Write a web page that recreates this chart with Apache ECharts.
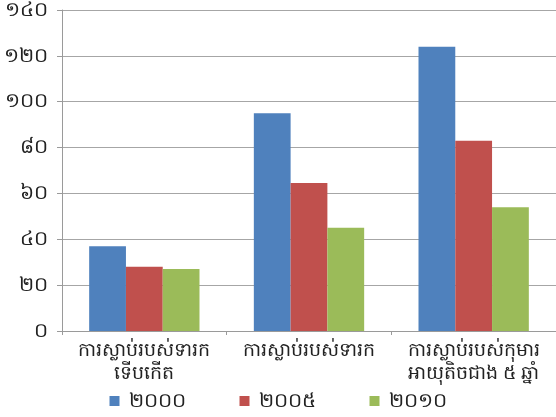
<!DOCTYPE html>
<html>
<head>
<meta charset="utf-8">
<script src="https://cdn.jsdelivr.net/npm/echarts@6/dist/echarts.min.js"></script>
<style>
  html, body { margin: 0; padding: 0; background: #fff; }
  #chart { width: 556px; height: 417px; }
</style>
</head>
<body>
<div id="chart"></div>
<script>
// Child mortality categories (Khmer)
const categories = [
  'ការស្លាប់របស់ទារក\nទើបកើត',
  'ការស្លាប់របស់ទារក',
  'ការស្លាប់របស់កុមារ\nអាយុតិចជាង ៥ ឆ្នាំ'
];
const seriesNames = ['២០០០', '២០០៥', '២០១០'];
const values2000 = [37, 95, 124];
const values2005 = [28, 64.5, 83];
const values2010 = [27, 45, 54];
const yTickValues = [0, 20, 40, 60, 80, 100, 120, 140];
const yTickLabels = ['០', '២០', '៤០', '៦០', '៨០', '១០០', '១២០', '១៤០'];

const colors = ['#4F81BD', '#C0504D', '#9BBB59'];
const fontFamily = '"Noto Sans", "DejaVu Sans", sans-serif';

const chart = echarts.init(document.getElementById('chart'));
const seriesData = [values2000, values2005, values2010];

chart.setOption({
  animation: false,
  color: colors,
  grid: { left: 62, right: 0, top: 9, bottom: 86, containLabel: false },
  legend: {
    bottom: 1,
    left: 'center',
    itemWidth: 10,
    itemHeight: 10,
    itemGap: 54,
    icon: 'rect',
    textStyle: { fontSize: 20, color: '#222', fontFamily: fontFamily, padding: [0, 0, 0, 4] },
    data: seriesNames
  },
  xAxis: {
    type: 'category',
    data: categories,
    axisLine: { lineStyle: { color: '#9a9a9a', width: 1 } },
    axisTick: { show: true, alignWithLabel: false, length: 4, lineStyle: { color: '#9a9a9a' } },
    axisLabel: {
      interval: 0,
      color: '#222',
      fontSize: 19,
      lineHeight: 23,
      margin: 8,
      fontFamily: fontFamily
    }
  },
  yAxis: {
    type: 'value',
    min: 0,
    max: 140,
    interval: 20,
    axisLine: { show: true, lineStyle: { color: '#9a9a9a', width: 1 } },
    axisTick: { show: true, length: 5, lineStyle: { color: '#9a9a9a' } },
    splitLine: { lineStyle: { color: '#a6a6a6', width: 1 } },
    axisLabel: {
      color: '#222',
      fontSize: 20,
      margin: 14,
      fontFamily: fontFamily,
      formatter: function (v) {
        const i = yTickValues.indexOf(v);
        return i >= 0 ? yTickLabels[i] : '';
      }
    }
  },
  series: seriesNames.map(function (name, i) {
    return {
      name: name,
      type: 'bar',
      data: seriesData[i],
      barGap: '0%',
      barCategoryGap: '33%'
    };
  })
});
</script>
</body>
</html>
